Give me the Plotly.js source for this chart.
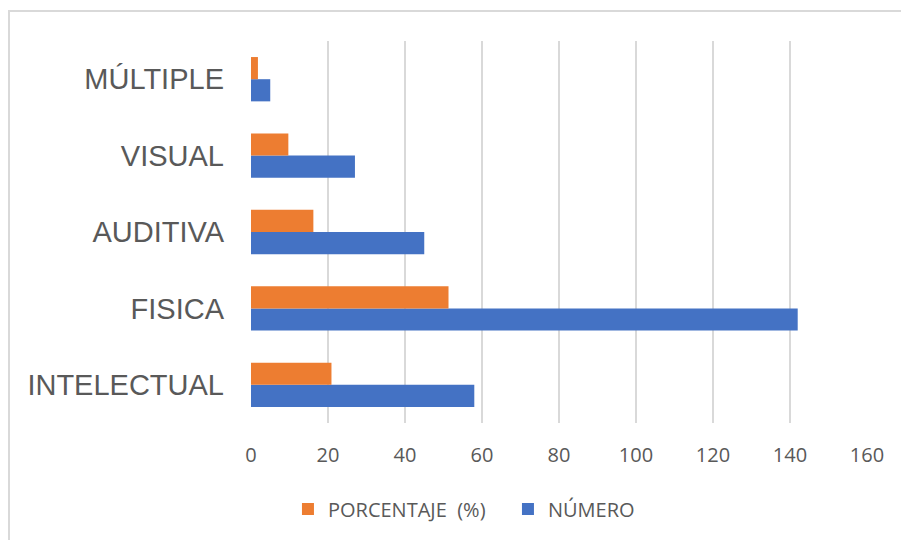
<!DOCTYPE html>
<html><head><meta charset="utf-8">
<script src="https://cdn.plot.ly/plotly-3.0.1.min.js"></script>
<style>
html,body{margin:0;padding:0;width:901px;height:540px;overflow:hidden;background:#fff;}
#frame{position:absolute;left:8px;top:10px;width:1000px;height:700px;border-left:2px solid #d9d9d9;border-top:2px solid #d9d9d9;}
#chart{position:absolute;left:0;top:0;width:901px;height:540px;}
</style></head>
<body>
<div id="frame"></div>
<div id="chart"></div>
<script>
const categories = ["INTELECTUAL", "FISICA", "AUDITIVA", "VISUAL", "MÚLTIPLE"];
const numero = [58, 142, 45, 27, 5];
const porcentaje = [20.9, 51.3, 16.2, 9.7, 1.8];
const seriesNames = ["NÚMERO", "PORCENTAJE  (%)"];
const xTicks = [0, 20, 40, 60, 80, 100, 120, 140, 160];

const traces = [
  {type:"bar", orientation:"h", name:seriesNames[0], y:categories, x:numero,
   marker:{color:"#4472C4"}, hoverinfo:"x+y"},
  {type:"bar", orientation:"h", name:seriesNames[1], y:categories, x:porcentaje,
   marker:{color:"#ED7D31"}, hoverinfo:"x+y"}
];

const layout = {
  width:901, height:540,
  margin:{l:251, r:34, t:41, b:117},
  paper_bgcolor:"rgba(0,0,0,0)", plot_bgcolor:"rgba(0,0,0,0)",
  barmode:"group", bargap:0.42, bargroupgap:0,
  font:{family:"Liberation Sans, Arial, sans-serif", color:"#595959"},
  xaxis:{range:[0,160], tickvals:xTicks, ticktext:xTicks.map(String),
    showgrid:true, gridcolor:"#d9d9d9", gridwidth:1.5, zeroline:false,
    showline:false, ticks:"", tickfont:{size:20, family:"Open Sans, sans-serif", color:"#595959"},
    ticklabelstandoff:18, fixedrange:true},
  yaxis:{type:"category", categoryorder:"array", categoryarray:categories,
    showgrid:false, zeroline:false, showline:false, ticks:"",
    tickfont:{size:29, family:"Liberation Sans, Arial, sans-serif", color:"#595959"},
    ticklabelstandoff:26, fixedrange:true},
  showlegend:true,
  legend:{orientation:"h", traceorder:"reversed", x:0.06, xanchor:"left", y:-0.225, yanchor:"middle",
    font:{size:20, family:"Open Sans, sans-serif", color:"#595959"}, itemwidth:30,
    entrywidth:175, entrywidthmode:"pixels",
    bgcolor:"rgba(0,0,0,0)"}
};
Plotly.newPlot("chart", traces, layout, {displayModeBar:false, staticPlot:true});
</script>
</body></html>
